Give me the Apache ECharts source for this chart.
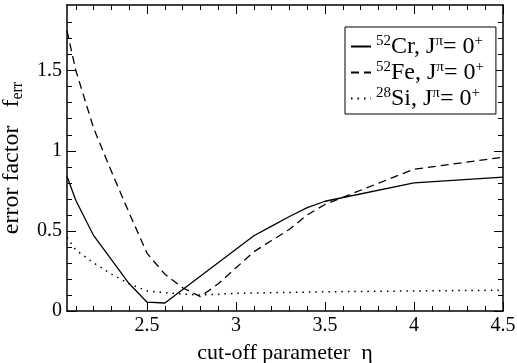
<!DOCTYPE html>
<html>
<head>
<meta charset="utf-8">
<script src="https://cdn.jsdelivr.net/npm/echarts@6/dist/echarts.min.js"></script>
<style>
  html, body { margin: 0; padding: 0; background: #fff; }
  #chart { width: 517px; height: 363px; }
</style>
</head>
<body>
<div id="chart"></div>
<script>
const crX = [2.05, 2.1, 2.2, 2.4, 2.5, 2.6, 3.1, 3.2, 3.3, 3.4, 3.5, 4.0, 4.5];
const crY = [0.84, 0.69, 0.47, 0.17, 0.055, 0.05, 0.47, 0.53, 0.59, 0.645, 0.685, 0.80, 0.835];

const feX = [2.05, 2.1, 2.2, 2.3, 2.4, 2.5, 2.6, 2.7, 2.8, 2.9, 3.0, 3.1, 3.2, 3.3, 3.4, 3.5, 3.6, 4.0, 4.5];
const feY = [1.75, 1.50, 1.14, 0.87, 0.61, 0.36, 0.23, 0.145, 0.09, 0.17, 0.27, 0.37, 0.44, 0.51, 0.60, 0.665, 0.71, 0.885, 0.96];

const siX = [2.05, 2.1, 2.2, 2.3, 2.4, 2.5, 2.6, 2.7, 2.8, 2.9, 3.0, 3.5, 4.0, 4.5];
const siY = [0.46, 0.38, 0.30, 0.23, 0.17, 0.125, 0.115, 0.105, 0.10, 0.105, 0.11, 0.12, 0.125, 0.13];

const xMajor = [2.5, 3, 3.5, 4, 4.5];
const xMinor = [2.1, 2.2, 2.3, 2.4, 2.6, 2.7, 2.8, 2.9, 3.1, 3.2, 3.3, 3.4, 3.6, 3.7, 3.8, 3.9, 4.1, 4.2, 4.3, 4.4];
const yMajor = [0, 0.5, 1, 1.5];
const yMinor = [0.1, 0.2, 0.3, 0.4, 0.6, 0.7, 0.8, 0.9, 1.1, 1.2, 1.3, 1.4, 1.6, 1.7, 1.8];

const legendText = {
  Cr: "{sup|52}{t|Cr, J}{sup|\u03c0}{t|= 0}{sup|+}",
  Fe: "{sup|52}{t|Fe, J}{sup|\u03c0}{t|= 0}{sup|+}",
  Si: "{sup|28}{t|Si, J}{sup|\u03c0}{t|= 0}{sup|+}"
};

const font = "'Liberation Serif', 'DejaVu Serif', serif";
const pairs = (xs, ys) => xs.map((x, i) => [x, ys[i]]);
const gridBox = { left: 67, right: 14, top: 5, bottom: 52, outerBoundsMode: "none", containLabel: false };

function xAxis(gridIndex, position, ticks, len, main) {
  return {
    type: "value", gridIndex, position, min: 2.05, max: 4.5,
    axisLine: { show: main, onZero: false, lineStyle: { color: "#000", width: 1.5 } },
    axisTick: { show: true, inside: true, length: len, customValues: ticks, lineStyle: { color: "#000", width: 1 } },
    axisLabel: main && position === "bottom"
      ? { show: true, customValues: ticks, color: "#000", fontFamily: font, fontSize: 20, margin: 5 }
      : { show: false },
    splitLine: { show: false },
    name: main && position === "bottom" ? "cut-off parameter  \u03b7" : "",
    nameLocation: "middle", nameGap: 31,
    nameTextStyle: { color: "#000", fontFamily: font, fontSize: 22 }
  };
}

function yAxis(gridIndex, position, ticks, len, main) {
  return {
    type: "value", gridIndex, position, min: 0, max: 1.91,
    axisLine: { show: main, onZero: false, lineStyle: { color: "#000", width: 1.5 } },
    axisTick: { show: true, inside: true, length: len, customValues: ticks, lineStyle: { color: "#000", width: 1 } },
    axisLabel: main && position === "left"
      ? { show: true, customValues: ticks, color: "#000", fontFamily: font, fontSize: 20, margin: 5 }
      : { show: false },
    splitLine: { show: false },
    name: main && position === "left" ? "{t|error factor   f}{sub|err}" : "",
    nameLocation: "middle", nameGap: 30, nameRotate: 90,
    nameTextStyle: {
      color: "#000", fontFamily: font, fontSize: 24,
      rich: {
        t: { fontFamily: font, fontSize: 24, color: "#000" },
        sub: { fontFamily: font, fontSize: 16, color: "#000", padding: [12, 0, 0, 0] }
      }
    }
  };
}

const chart = echarts.init(document.getElementById("chart"), null, { renderer: "canvas" });
chart.setOption({
  backgroundColor: "#fff",
  animation: false,
  grid: [gridBox, gridBox],
  xAxis: [
    xAxis(0, "bottom", xMajor, 9, true),
    xAxis(0, "top", xMajor, 9, true),
    xAxis(1, "bottom", xMinor, 5, false),
    xAxis(1, "top", xMinor, 5, false)
  ],
  yAxis: [
    yAxis(0, "left", yMajor, 9, true),
    yAxis(0, "right", yMajor, 9, true),
    yAxis(1, "left", yMinor, 5, false),
    yAxis(1, "right", yMinor, 5, false)
  ],
  legend: {
    orient: "vertical",
    left: 345, top: 27,
    backgroundColor: "#fff",
    borderColor: "#000", borderWidth: 1,
    padding: [7, 12, 3, 5],
    itemGap: 1,
    itemWidth: 20, itemHeight: 10,
    itemStyle: { opacity: 0 },
    data: ["Cr", "Fe", "Si"],
    formatter: (name) => legendText[name],
    textStyle: {
      color: "#000", fontFamily: font, fontSize: 24, lineHeight: 24,
      rich: {
        t: { fontFamily: font, fontSize: 24, lineHeight: 24, color: "#000" },
        sup: { fontFamily: font, fontSize: 15, lineHeight: 14, color: "#000", padding: [0, 0, 10, 0] }
      }
    }
  },
  series: [
    { name: "Cr", type: "line", xAxisIndex: 0, yAxisIndex: 0, data: pairs(crX, crY), symbol: "none",
      lineStyle: { color: "#000", width: 1.3, type: "solid" }, itemStyle: { color: "#000" } },
    { name: "Fe", type: "line", xAxisIndex: 0, yAxisIndex: 0, data: pairs(feX, feY), symbol: "none",
      lineStyle: { color: "#000", width: 1.3, type: [8, 5] }, itemStyle: { color: "#000" } },
    { name: "Si", type: "line", xAxisIndex: 0, yAxisIndex: 0, data: pairs(siX, siY), symbol: "none",
      lineStyle: { color: "#000", width: 1.5, type: [1.5, 5] }, itemStyle: { color: "#000" } }
  ]
});
</script>
</body>
</html>
